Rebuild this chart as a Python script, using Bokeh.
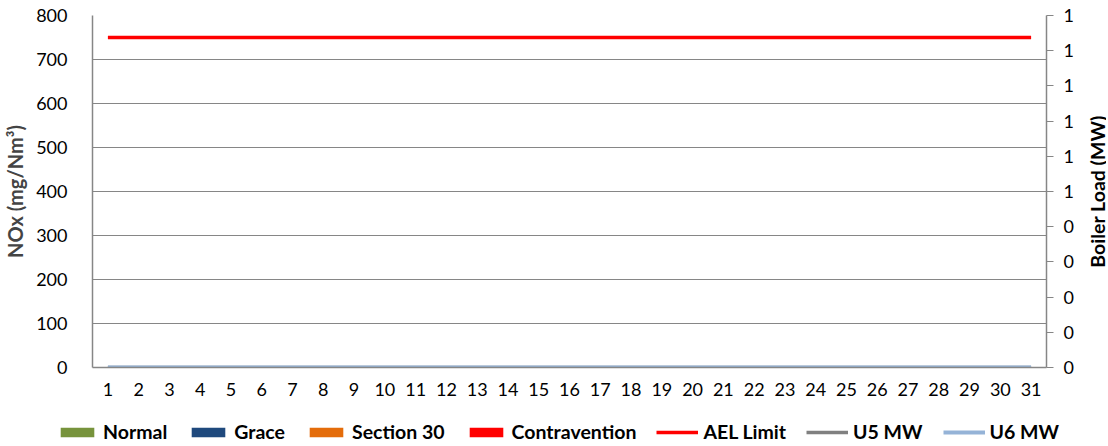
import math
from bokeh.plotting import figure
from bokeh.layouts import column, row
from bokeh.models import (Range1d, LinearAxis, FixedTicker, Legend, LegendItem,
                          ColumnDataSource)
from bokeh.core.properties import value
from bokeh.embed import file_html
from bokeh.resources import INLINE

# ---- data ----
days = list(range(1, 32))
normal = [0] * 31
grace = [0] * 31
section30 = [0] * 31
contravention = [0] * 31
ael_limit = [750] * 31
u5_mw = [0] * 31
u6_mw = [0] * 31

left_ticks = [0, 100, 200, 300, 400, 500, 600, 700, 800]
right_ticks = [0.0, 0.1, 0.2, 0.3, 0.4, 0.5, 0.6, 0.7, 0.8, 0.9, 1.0]
right_labels = ["0", "0", "0", "0", "0", "1", "1", "1", "1", "1", "1"]
left_title = "NOx (mg/Nm³)"
right_title = "Boiler Load (MW)"

series_names = ["Normal", "Grace", "Section 30", "Contravention", "AEL Limit", "U5 MW", "U6 MW"]
bar_colors = ["#77933C", "#1F497D", "#E46C0A", "#FF0000"]
line_colors = ["#FF0000", "#808080", "#95B3D7"]
line_widths = [3.5, 3.5, 4]

FONT = "Lato"
GRID = "#868686"
W = 1092
FW, FH = 954, 352
TOP, BOTTOM = 15, 34
H = TOP + FH + BOTTOM

src = ColumnDataSource(dict(day=days, normal=normal, grace=grace, section30=section30,
                            contravention=contravention, ael=ael_limit, u5=u5_mw, u6=u6_mw))
bar_fields = ["normal", "grace", "section30", "contravention"]
line_fields = ["ael", "u5", "u6"]


def add_series(fig, secondary):
    b = fig.vbar_stack(bar_fields, x="day", width=0.6, color=bar_colors, line_color=None, source=src)
    ls = []
    for f, c, w, yr in zip(line_fields, line_colors, line_widths, ["default", secondary, secondary]):
        ls.append(fig.line("day", f, source=src, line_color=c, line_width=w, y_range_name=yr))
    return list(b) + ls


def no_align(fig):
    if hasattr(fig, "frame_align"):
        fig.frame_align = False


p = figure(frame_width=FW, frame_height=FH, output_backend="svg", toolbar_location=None,
           x_range=Range1d(0.5, 31.5), y_range=Range1d(0, 800),
           min_border_left=83, min_border_right=42, min_border_top=TOP, min_border_bottom=BOTTOM)
p.extra_y_ranges = {"mw": Range1d(0, 1)}
p.outline_line_color = None
no_align(p)
add_series(p, "mw")

p.xaxis.ticker = FixedTicker(ticks=days)
p.yaxis.ticker = FixedTicker(ticks=left_ticks)
for ax in (p.xaxis[0], p.yaxis[0]):
    ax.axis_line_color = GRID
    ax.axis_line_width = 1.5
    ax.major_tick_line_color = None
    ax.minor_tick_line_color = None
    ax.major_label_text_font = FONT
    ax.major_label_text_font_size = "18px"
    ax.major_label_text_color = "#000000"
p.xaxis.major_label_standoff = 9
p.yaxis.major_label_standoff = 19
p.yaxis.axis_label = left_title
p.yaxis.axis_label_text_font = FONT
p.yaxis.axis_label_text_font_style = "bold"
p.yaxis.axis_label_text_font_size = "20px"
p.yaxis.axis_label_standoff = 6

ra = LinearAxis(y_range_name="mw", ticker=FixedTicker(ticks=right_ticks))
ra.major_label_overrides = dict(zip(right_ticks, right_labels))
ra.axis_line_color = GRID
ra.axis_line_width = 1.5
ra.major_tick_line_color = GRID
ra.major_tick_in = 0
ra.major_tick_out = 7
ra.minor_tick_line_color = None
ra.major_label_text_font = FONT
ra.major_label_text_font_size = "18px"
ra.major_label_text_color = "#000000"
ra.major_label_standoff = 10
p.add_layout(ra, "right")

p.xgrid.grid_line_color = None
p.ygrid.grid_line_color = GRID
p.ygrid.grid_line_width = 1

# ---- right axis title strip (reads bottom-to-top like the reference) ----
tf = figure(width=18, height=H, output_backend="svg", toolbar_location=None,
            x_axis_type=None, y_axis_type=None, min_border=0,
            x_range=Range1d(0, 1), y_range=Range1d(0, H))
tf.outline_line_color = None
tf.grid.grid_line_color = None
no_align(tf)
frame_mid = BOTTOM + FH / 2
tf.text(x=[0.5], y=[frame_mid], text=[right_title], angle=math.pi / 2,
        text_align="center", text_baseline="middle",
        text_font=value(FONT), text_font_style="bold", text_font_size="19.5px",
        text_color="#000000")

# ---- legend strip (its series are drawn off-view; only the legend shows) ----
lf = figure(width=W, height=45, output_backend="svg", toolbar_location=None,
            x_axis_type=None, y_axis_type=None, min_border=0,
            x_range=Range1d(0.5, 31.5), y_range=Range1d(5000, 6000))
lf.extra_y_ranges = {"mw": Range1d(5000, 6000)}
lf.outline_line_color = None
lf.grid.grid_line_color = None
no_align(lf)
leg_renderers = add_series(lf, "mw")

legend = Legend(items=[LegendItem(label=n, renderers=[r]) for n, r in zip(series_names, leg_renderers)],
                orientation="horizontal", location=(56, 3))
legend.glyph_width = 42
legend.glyph_height = 12
legend.label_standoff = 5
legend.spacing = 20
legend.padding = 0
legend.margin = 0
legend.border_line_color = None
legend.background_fill_alpha = 0
legend.label_text_font = FONT
legend.label_text_font_style = "bold"
legend.label_text_font_size = "19.5px"
legend.label_text_color = "#000000"
lf.add_layout(legend)

layout = column(row(p, tf, spacing=0), lf, spacing=0)
open("out.html", "w").write(file_html(layout, INLINE))
